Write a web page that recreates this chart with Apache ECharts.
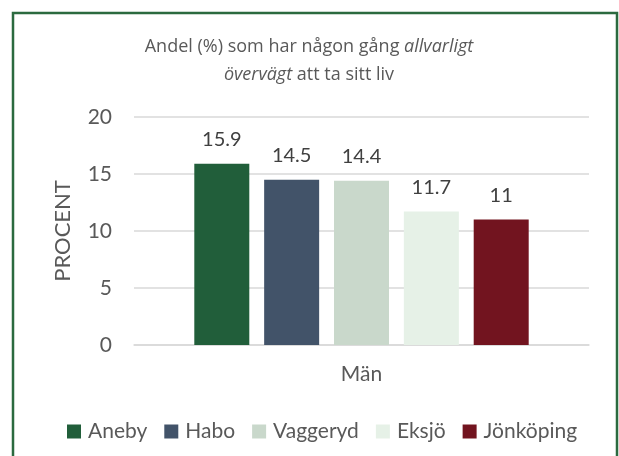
<!DOCTYPE html>
<html>
<head>
<meta charset="utf-8">
<script src="https://cdn.jsdelivr.net/npm/echarts@6/dist/echarts.min.js"></script>
<style>
  html, body { margin: 0; padding: 0; background: #ffffff; }
  #chart { width: 619px; height: 456px; }
</style>
</head>
<body>
<div id="chart"></div>
<script>
// Share (%) of men who have ever seriously considered taking their own life
const categories = ['Män'];
const municipalities = ['Aneby', 'Habo', 'Vaggeryd', 'Eksjö', 'Jönköping'];
const aneby = [15.9];
const habo = [14.5];
const vaggeryd = [14.4];
const eksjo = [11.7];
const jonkoping = [11];
const yTicks = [0, 5, 10, 15, 20];

const seriesValues = [aneby, habo, vaggeryd, eksjo, jonkoping];
const barColors = ['#215e3a', '#425369', '#c9d8cb', '#e6f1e7', '#72141f'];
const FONT = 'Lato, "Noto Sans", sans-serif';
const TITLE_FONT = '"Open Sans", "Noto Sans", sans-serif';

const chart = echarts.init(document.getElementById('chart'), null, { renderer: 'canvas' });

chart.setOption({
  backgroundColor: '#ffffff',
  animation: false,
  textStyle: { fontFamily: FONT },
  graphic: [
    {
      type: 'rect',
      shape: { x: 13, y: 13, width: 604, height: 460 },
      style: { fill: 'none', stroke: '#2b6a3f', lineWidth: 2.5 },
      silent: true
    },
    {
      type: 'text',
      x: 309,
      y: 61,
      style: {
        text: '{n|Andel (%) som har någon gång }{i|allvarligt}\n{i|övervägt}{n| att ta sitt liv}',
        align: 'center',
        verticalAlign: 'middle',
        fill: '#595959',
        font: '18px ' + TITLE_FONT,
        rich: {
          n: { fontSize: 18, fontFamily: TITLE_FONT, color: '#595959', lineHeight: 28 },
          i: { fontSize: 18, fontFamily: TITLE_FONT, fontStyle: 'italic', color: '#595959', lineHeight: 28 }
        }
      }
    }
  ],
  legend: {
    data: municipalities,
    bottom: 9,
    left: 62,
    itemWidth: 14,
    itemHeight: 14,
    itemGap: 17,
    icon: 'rect',
    textStyle: { fontSize: 21, color: '#595959', fontFamily: FONT, padding: [0, 0, 0, 2] }
  },
  grid: { left: 134, right: 30, top: 117, bottom: 111, containLabel: false },
  xAxis: {
    type: 'category',
    data: categories,
    axisLine: { lineStyle: { color: '#d9d9d9', width: 1.5 } },
    axisTick: { show: false },
    axisLabel: { fontSize: 21, color: '#595959', margin: 19 }
  },
  yAxis: {
    type: 'value',
    min: yTicks[0],
    max: yTicks[yTicks.length - 1],
    interval: yTicks[1] - yTicks[0],
    name: 'PROCENT',
    nameLocation: 'middle',
    nameRotate: 90,
    nameGap: 60,
    nameTextStyle: { fontSize: 22, color: '#595959' },
    axisLine: { show: false },
    axisTick: { show: false },
    axisLabel: { fontSize: 21, color: '#595959', margin: 22 },
    splitLine: { lineStyle: { color: '#d9d9d9', width: 1.5 } }
  },
  series: municipalities.map((name, i) => ({
    name: name,
    type: 'bar',
    data: seriesValues[i],
    barWidth: 55,
    barGap: '27%',
    itemStyle: { color: barColors[i] },
    label: {
      show: true,
      position: 'top',
      distance: 14,
      fontSize: 20,
      color: '#404040'
    }
  }))
});
</script>
</body>
</html>
